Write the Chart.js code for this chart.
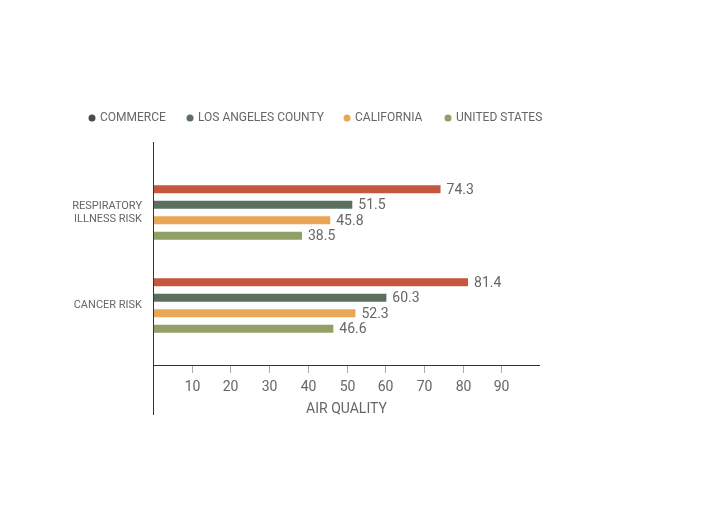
<!DOCTYPE html>
<html>
<head>
<meta charset="utf-8">
<script src="https://cdn.jsdelivr.net/npm/chart.js@4/dist/chart.umd.min.js"></script>
<style>
  html, body { margin: 0; padding: 0; background: #fff; }
  #wrap { width: 711px; height: 526px; }
</style>
</head>
<body>
<div id="wrap"><canvas id="chart" width="711" height="526"></canvas></div>
<script>
const categories = [["RESPIRATORY", "ILLNESS RISK"], "CANCER RISK"];
const seriesNames = ["COMMERCE", "LOS ANGELES COUNTY", "CALIFORNIA", "UNITED STATES"];
const commerce = [74.3, 81.4];
const losAngeles = [51.5, 60.3];
const california = [45.8, 52.3];
const unitedStates = [38.5, 46.6];
const xTicks = [10, 20, 30, 40, 50, 60, 70, 80, 90];

const barColors = ["#c4573d", "#5c7060", "#eaa657", "#929f66"];
const legendColors = ["#4b4b4b", "#5c7060", "#eaa657", "#929f66"];
const textColor = "#666";
const fontFamily = "Roboto, 'Liberation Sans', sans-serif";

// draws the axes, x ticks, value labels and legend by hand
const decorations = {
    id: "decorations",
    afterDraw(chart) {
        const ctx = chart.ctx;
        const x = chart.scales.x;
        const left = chart.chartArea.left;
        const axisY = 365;
        ctx.save();
        ctx.strokeStyle = "#333";
        ctx.lineWidth = 1;
        ctx.beginPath();
        ctx.moveTo(left + 0.5, 142);
        ctx.lineTo(left + 0.5, 415);
        ctx.moveTo(left, axisY + 0.5);
        ctx.lineTo(x.getPixelForValue(100), axisY + 0.5);
        ctx.stroke();

        ctx.strokeStyle = "#aaa";
        ctx.fillStyle = textColor;
        ctx.font = "14px " + fontFamily;
        ctx.textAlign = "center";
        ctx.textBaseline = "middle";
        xTicks.forEach(t => {
            const px = Math.round(x.getPixelForValue(t)) + 0.5;
            ctx.beginPath();
            ctx.moveTo(px, axisY + 1);
            ctx.lineTo(px, axisY + 8);
            ctx.stroke();
            ctx.fillText(String(t), px, 387);
        });
        ctx.fillText("AIR QUALITY", x.getPixelForValue(50), 409);

        // value labels
        ctx.textAlign = "left";
        chart.data.datasets.forEach((ds, i) => {
            chart.getDatasetMeta(i).data.forEach((bar, j) => {
                ctx.fillText(ds.data[j].toFixed(1), bar.x + 6, bar.y + 1);
            });
        });

        // legend
        ctx.font = "12px " + fontFamily;
        const legendX = [92, 190, 347, 448];
        seriesNames.forEach((name, i) => {
            ctx.fillStyle = legendColors[i];
            ctx.beginPath();
            ctx.arc(legendX[i], 118, 3.5, 0, Math.PI * 2);
            ctx.fill();
            ctx.fillStyle = textColor;
            ctx.fillText(name, legendX[i] + 8, 118);
        });
        ctx.restore();
    }
};

new Chart(document.getElementById("chart"), {
    type: "bar",
    data: {
        labels: categories,
        datasets: [commerce, losAngeles, california, unitedStates].map((data, i) => ({
            label: seriesNames[i],
            data: data,
            backgroundColor: barColors[i],
            categoryPercentage: 0.667,
            barPercentage: 0.52
        }))
    },
    options: {
        indexAxis: "y",
        responsive: false,
        animation: false,
        layout: { padding: { left: 0, right: 171, top: 166, bottom: 174 } },
        plugins: { legend: { display: false }, tooltip: { enabled: false } },
        scales: {
            x: { display: false, min: 0, max: 100 },
            y: {
                afterFit: s => { s.width = 153; },
                grid: { display: false },
                border: { display: false },
                ticks: { color: textColor, font: { size: 11, family: fontFamily }, padding: 3 }
            }
        }
    },
    plugins: [decorations]
});
</script>
</body>
</html>
